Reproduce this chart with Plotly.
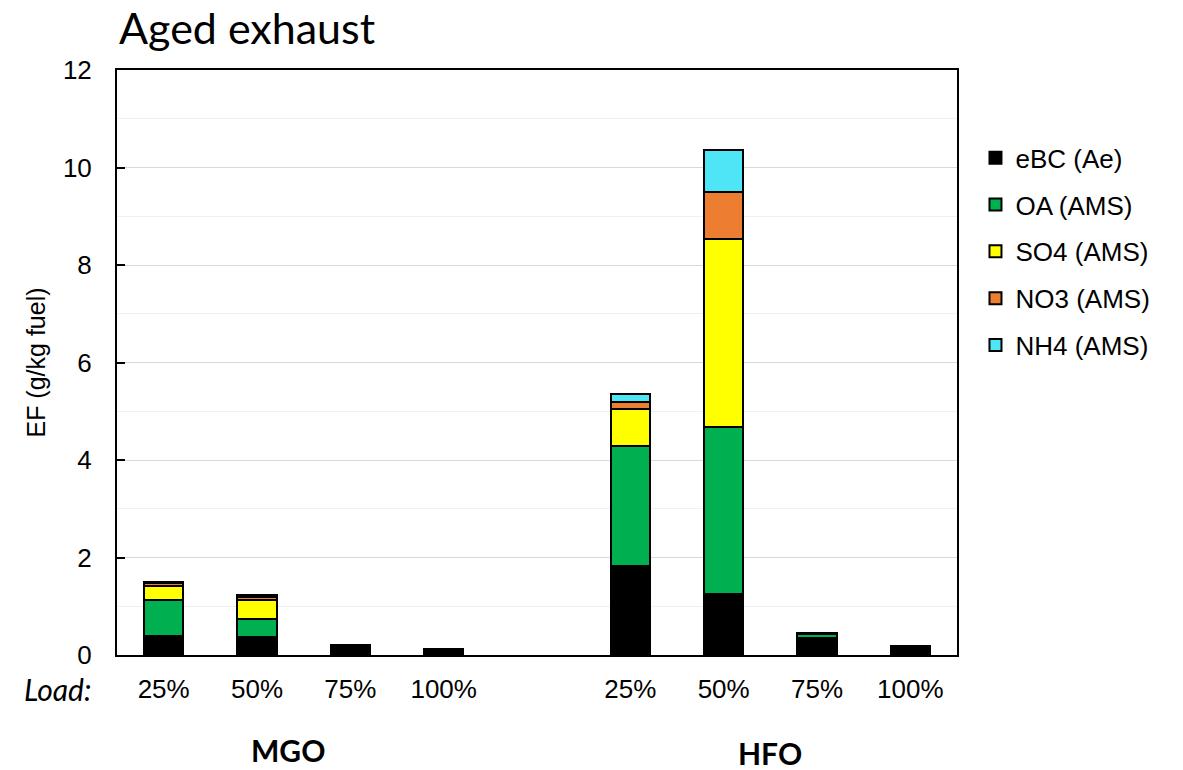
import plotly.graph_objects as go

# Load positions: MGO at slots 0-3, an empty gap at slot 4, HFO at slots 5-8
slots = [0, 1, 2, 3, 5, 6, 7, 8]
load_labels = ["25%", "50%", "75%", "100%", "25%", "50%", "75%", "100%"]

# Emission factors (g/kg fuel), per component
ebc = [0.38, 0.36, 0.21, 0.12, 1.83, 1.25, 0.35, 0.19]
oa = [0.75, 0.37, 0.0, 0.0, 2.46, 3.42, 0.09, 0.0]
so4 = [0.29, 0.40, 0.0, 0.0, 0.75, 3.86, 0.02, 0.0]
no3 = [0.05, 0.06, 0.0, 0.0, 0.16, 0.97, 0.0, 0.0]
nh4 = [0.03, 0.04, 0.0, 0.0, 0.15, 0.85, 0.0, 0.0]

series = [
    ("eBC (Ae)", ebc, "#000000"),
    ("OA (AMS)", oa, "#00b050"),
    ("SO4 (AMS)", so4, "#ffff00"),
    ("NO3 (AMS)", no3, "#ed7d31"),
    ("NH4 (AMS)", nh4, "#4ee5f7"),
]

SANS = "Liberation Sans, Arial, sans-serif"
HEAD = "Lato, Open Sans, sans-serif"

fig = go.Figure()
for name, vals, color in series:
    fig.add_trace(go.Bar(
        x=slots, y=vals, name=name, width=0.42,
        marker=dict(color=color, line=dict(color="#000000", width=2)),
        legendgroup=name,
    ))

fig.update_layout(
    width=1183, height=770,
    margin=dict(l=117, r=226, t=70, b=115),
    paper_bgcolor="white", plot_bgcolor="white",
    barmode="stack", bargap=0,
    font=dict(family=SANS, size=26, color="#000"),
    showlegend=True,
    legend=dict(
        x=1.022, y=0.89, xanchor="left", yanchor="top",
        traceorder="grouped", tracegroupgap=10,
        font=dict(family=SANS, size=26), itemwidth=30,
    ),
    xaxis=dict(
        range=[-0.5, 8.5], tickmode="array", tickvals=slots, ticktext=load_labels,
        showline=True, linecolor="#000", linewidth=2, mirror=True,
        ticks="", showgrid=False, zeroline=False,
        tickfont=dict(family=SANS, size=26), ticklabelstandoff=10,
    ),
    yaxis=dict(
        range=[0, 12], dtick=2, tick0=0,
        showline=True, linecolor="#000", linewidth=2, mirror=True,
        ticks="inside", ticklen=8, tickwidth=2, tickcolor="#000",
        showgrid=True, gridcolor="#d9d9d9", gridwidth=1.3,
        minor=dict(dtick=1, showgrid=True, gridcolor="#f0f0f0", gridwidth=1.3),
        zeroline=False,
        tickfont=dict(family=SANS, size=26), ticklabelstandoff=18,
        title=dict(text="EF (g/kg fuel)", font=dict(family=SANS, size=25), standoff=10),
    ),
    annotations=[
        dict(text="Aged exhaust", xref="paper", yref="paper", x=0.0, y=1.0735,
             xanchor="left", yanchor="middle", showarrow=False,
             font=dict(family=HEAD, size=43, color="#000")),
        dict(text="<i>Load:</i>", xref="paper", yref="paper", x=-0.029, y=-0.058,
             xanchor="right", yanchor="middle", showarrow=False,
             font=dict(family=HEAD, size=30)),
        dict(text="<b>MGO</b>", xref="x", yref="paper", x=1.33, y=-0.162,
             xanchor="center", yanchor="middle", showarrow=False,
             font=dict(family=HEAD, size=30)),
        dict(text="<b>HFO</b>", xref="x", yref="paper", x=6.5, y=-0.168,
             xanchor="center", yanchor="middle", showarrow=False,
             font=dict(family=HEAD, size=30)),
    ],
)

fig.write_html("out.html")
